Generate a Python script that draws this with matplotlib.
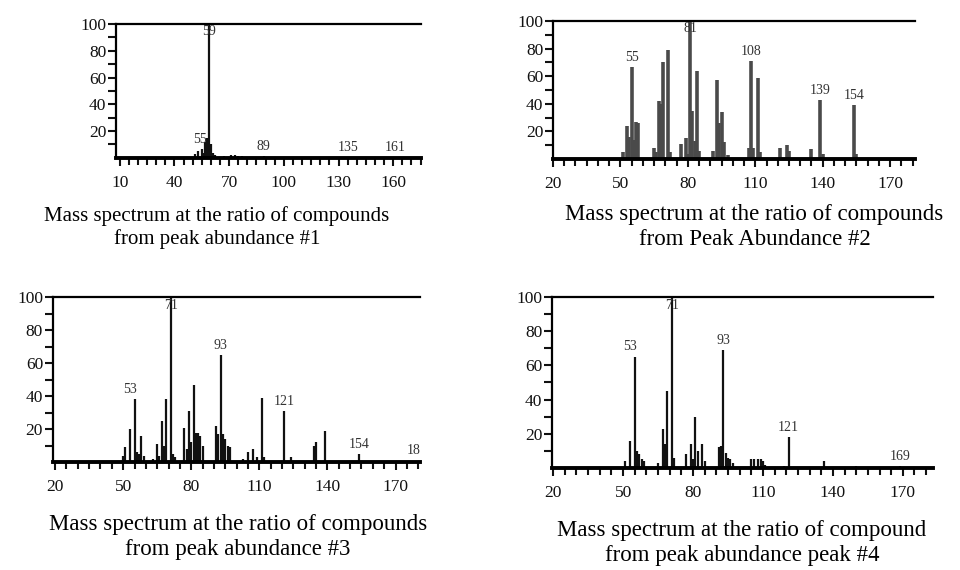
"""Four EI mass spectra (peak abundance #1-#4) redrawn as stick plots."""
import matplotlib
matplotlib.use("Agg")
import matplotlib.pyplot as plt
from matplotlib.ticker import MultipleLocator, FixedLocator, NullFormatter

plt.rcParams["font.family"] = ["Liberation Serif", "DejaVu Serif"]

# ---- spectrum 1 ----
mz1 = [51, 53, 55, 56, 57, 58, 59, 60, 61, 62, 65, 67, 69, 71, 73, 75, 77,
       81, 85, 89, 95, 101, 107, 113, 119, 127, 135, 147, 161, 171]
ab1 = [3, 5, 7, 4, 12, 15, 100, 10, 4, 2, 1, 1.5, 1, 2, 2, 1.5, 1.5,
       1, 1, 1.5, 1, 0.8, 0.8, 0.6, 0.7, 0.5, 0.8, 0.5, 0.6, 0.4]
lab1 = [("59", 59), ("55", 54), ("89", 89), ("135", 135), ("161", 161)]

# ---- spectrum 2 ----
mz2 = [51, 53, 54, 55, 56, 57, 58, 65, 66, 67, 68, 69, 71, 72, 77, 79, 80,
       81, 82, 83, 84, 85, 91, 93, 94, 95, 96, 98, 107, 108, 109, 111, 112,
       121, 124, 125, 135, 139, 140, 154, 155]
ab2 = [5, 24, 16, 67, 14, 27, 26, 8, 5, 42, 40, 70, 79, 5, 11, 15, 4,
       100, 35, 13, 64, 6, 6, 57, 26, 34, 12, 3, 8, 71, 8, 59, 5,
       8, 10, 6, 7, 43, 4, 39, 4]
lab2 = [("55", 55), ("81", 81), ("108", 108), ("139", 139), ("154", 154)]

# ---- spectrum 3 ----
mz3 = [50, 51, 53, 55, 56, 57, 58, 59, 63, 65, 66, 67, 68, 69, 71, 72, 73,
       77, 78, 79, 80, 81, 82, 83, 84, 85, 91, 92, 93, 94, 95, 96, 97,
       103, 105, 107, 109, 111, 112, 121, 124, 134, 135, 139, 154, 170, 178]
ab3 = [4, 9, 20, 38, 6, 5, 16, 4, 2, 11, 4, 25, 10, 38, 100, 5, 3,
       21, 8, 31, 12, 47, 18, 18, 16, 10, 22, 17, 65, 17, 14, 10, 9,
       2, 6, 8, 3, 39, 3, 31, 3, 10, 12, 19, 5, 1, 1]
lab3 = [("53", 53), ("71", 71), ("93", 93), ("121", 121), ("154", 154), ("18", 178)]

# ---- spectrum 4 ----
mz4 = [51, 53, 55, 56, 57, 58, 59, 65, 67, 68, 69, 71, 72, 77, 79, 80, 81,
       82, 84, 85, 91, 92, 93, 94, 95, 96, 97, 105, 106, 108, 109, 110, 111,
       119, 121, 136, 150, 169]
ab4 = [4, 16, 65, 10, 8, 5, 4, 3, 23, 14, 45, 100, 6, 8, 14, 5, 30,
       10, 14, 4, 12, 13, 69, 9, 6, 5, 3, 5, 5, 5, 5, 4, 2,
       1, 18, 4, 1, 1]
lab4 = [("53", 53), ("71", 71), ("93", 93), ("121", 121), ("169", 169)]

captions = [
    "Mass spectrum at the ratio of compounds\nfrom peak abundance #1",
    "Mass spectrum at the ratio of compounds\nfrom Peak Abundance #2",
    "Mass spectrum at the ratio of compounds\nfrom peak abundance #3",
    "Mass spectrum at the ratio of compound\nfrom peak abundance peak #4",
]

fig = plt.figure(figsize=(9.6, 5.7), dpi=100)

# axes box, x-range, first x label, bar colour/width, caption centre and size
panels = [
    ([0.121, 0.723, 0.318, 0.235], (8, 175.5), 10, mz1, ab1, lab1, "#111111", 1.6, captions[0], (0.226, 0.601), 15),
    ([0.576, 0.721, 0.377, 0.242], (20, 181), 20, mz2, ab2, lab2, "#4a4a4a", 2.6, captions[1], (0.786, 0.601), 16.5),
    ([0.055, 0.189, 0.383, 0.290], (19, 181), 20, mz3, ab3, lab3, "#111111", 1.6, captions[2], (0.248, 0.058), 16.5),
    ([0.575, 0.179, 0.397, 0.300], (19.5, 183), 20, mz4, ab4, lab4, "#111111", 1.6, captions[3], (0.773, 0.047), 16.5),
]

for rect, xr, x0, mz, ab, labs, col, lw, cap, cpos, cfs in panels:
    ax = fig.add_axes(rect)
    ax.vlines(mz, 0, ab, color=col, lw=lw)
    ax.set_xlim(*xr)
    ax.set_ylim(0, 100)

    ax.spines["right"].set_visible(False)
    ax.spines["top"].set_linewidth(1.6)
    ax.spines["left"].set_linewidth(1.6)
    ax.spines["bottom"].set_linewidth(2.8)

    ax.yaxis.set_major_locator(FixedLocator([20, 40, 60, 80, 100]))
    ax.yaxis.set_minor_locator(FixedLocator([10, 30, 50, 70, 90]))
    ax.xaxis.set_major_locator(MultipleLocator(30, offset=x0 % 30))
    ax.xaxis.set_minor_locator(MultipleLocator(5))
    ax.xaxis.set_minor_formatter(NullFormatter())
    ax.tick_params(axis="both", which="both", direction="out", width=1.5, colors="#111111")
    ax.tick_params(axis="y", which="both", length=6, pad=1, labelsize=12.5)
    ax.tick_params(axis="x", which="major", length=6, pad=6, labelsize=12.5)
    ax.tick_params(axis="x", which="minor", length=5)

    for txt, m in labs:
        near = [a for x, a in zip(mz, ab) if abs(x - m) <= 2]
        top = max(near) if near else 0
        if top >= 95:
            ax.text(m, 99, txt, ha="center", va="top", fontsize=10, color="#333333")
        else:
            ax.text(m, top + 2, txt, ha="center", va="bottom", fontsize=10,
                    color="#333333", clip_on=True)

    fig.text(cpos[0], cpos[1], cap, ha="center", va="center", fontsize=cfs,
             linespacing=1.25, color="black")

fig.savefig("out.png", dpi=100)
